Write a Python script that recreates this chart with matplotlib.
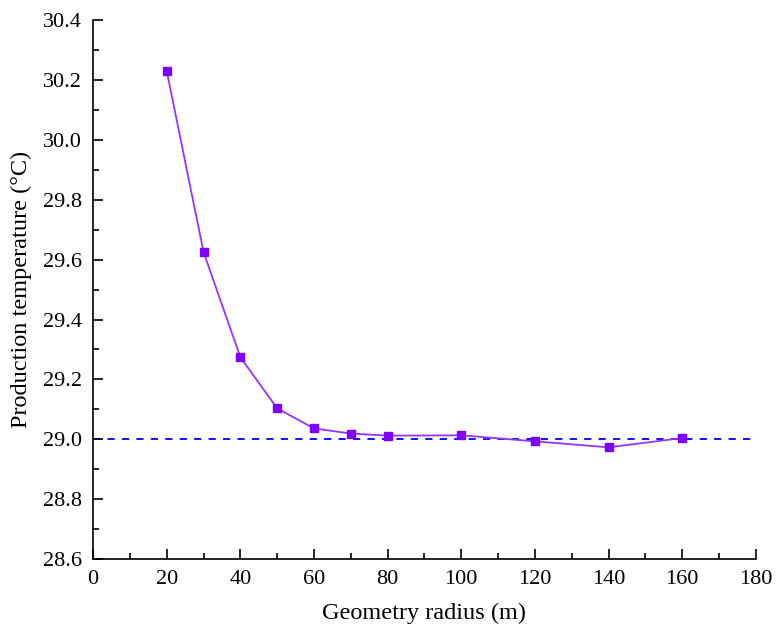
import matplotlib.pyplot as plt
from matplotlib.ticker import MultipleLocator

plt.rcParams['font.family'] = ['Liberation Serif', 'DejaVu Serif']
plt.rcParams['font.size'] = 16

# Geometry radius (m) and production temperature (°C)
radius = [20, 30, 40, 50, 60, 70, 80, 100, 120, 140, 160]
temperature = [30.23, 29.625, 29.274, 29.103, 29.036, 29.019, 29.012, 29.013, 28.993, 28.973, 29.004]
reference_temp = 29.0

fig = plt.figure(figsize=(7.76, 6.33), dpi=100)
ax = fig.add_axes([0.12, 0.117, 0.854, 0.851])

ax.axhline(reference_temp, color='#0000FF', linestyle=(0, (4, 4)), linewidth=1.3, zorder=1)
ax.plot(radius, temperature, color='#9933FF', linewidth=1.3, marker='s',
        markersize=6, markerfacecolor='#8000FF', markeredgecolor='#8000FF', zorder=3)

ax.set_xlim(0, 180)
ax.set_ylim(28.6, 30.4)
ax.xaxis.set_major_locator(MultipleLocator(20))
ax.xaxis.set_minor_locator(MultipleLocator(10))
ax.yaxis.set_major_locator(MultipleLocator(0.2))
ax.yaxis.set_minor_locator(MultipleLocator(0.1))
ax.yaxis.set_major_formatter(plt.FormatStrFormatter('%.1f'))

ax.spines['top'].set_visible(False)
ax.spines['right'].set_visible(False)
for s in ('left', 'bottom'):
    ax.spines[s].set_linewidth(1.2)
ax.tick_params(which='major', direction='in', length=7, width=1.2, labelsize=16, pad=8)
ax.tick_params(which='minor', direction='in', length=4, width=1.2)

ax.set_xlabel('Geometry radius (m)', fontsize=17.5, labelpad=10)
ax.set_ylabel('Production temperature (°C)', fontsize=17.5, labelpad=8)

fig.savefig('out.png', dpi=100)
